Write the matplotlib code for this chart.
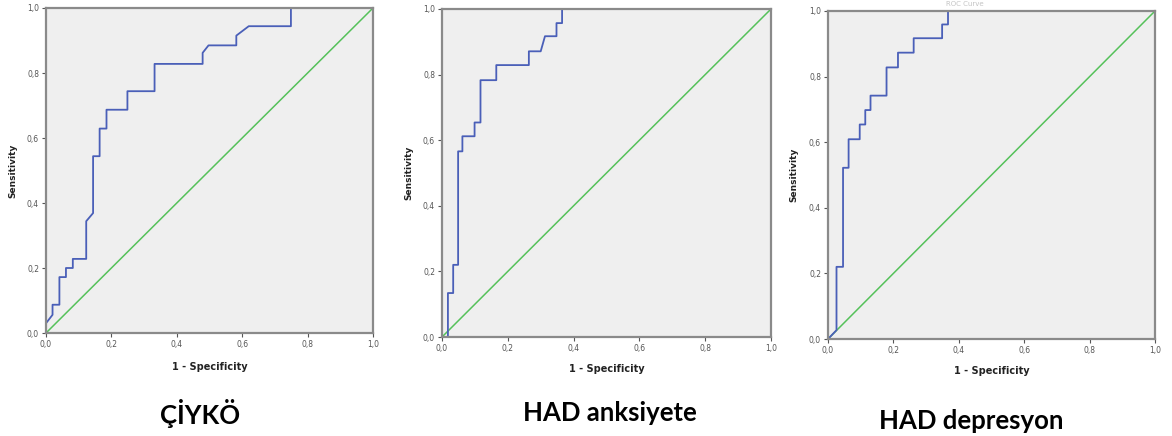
import matplotlib.pyplot as plt
from matplotlib.ticker import FuncFormatter

# ROC curve vertices (1 - specificity, sensitivity)
fpr_ciyko = [0.0, 0.0, 0.02, 0.02, 0.041, 0.041, 0.061, 0.061, 0.082, 0.082, 0.123, 0.123,
             0.144, 0.144, 0.164, 0.164, 0.185, 0.185, 0.249, 0.249, 0.332, 0.332, 0.479,
             0.479, 0.497, 0.582, 0.582, 0.62, 0.749, 0.749, 1.0]
tpr_ciyko = [0.0, 0.03, 0.056, 0.087, 0.087, 0.172, 0.172, 0.2, 0.2, 0.228, 0.228, 0.344,
             0.369, 0.544, 0.544, 0.629, 0.629, 0.687, 0.687, 0.744, 0.744, 0.828, 0.828,
             0.862, 0.885, 0.885, 0.915, 0.944, 0.944, 1.0, 1.0]

fpr_anks = [0.0, 0.018, 0.018, 0.034, 0.034, 0.049, 0.049, 0.062, 0.062, 0.099, 0.099, 0.117,
            0.117, 0.165, 0.165, 0.264, 0.264, 0.3, 0.313, 0.348, 0.348, 0.365, 0.365, 1.0]
tpr_anks = [0.0, 0.0, 0.134, 0.134, 0.22, 0.22, 0.566, 0.566, 0.612, 0.612, 0.654, 0.654,
            0.783, 0.783, 0.829, 0.829, 0.871, 0.871, 0.917, 0.917, 0.957, 0.957, 1.0, 1.0]

fpr_dep = [0.0, 0.026, 0.026, 0.046, 0.046, 0.063, 0.063, 0.097, 0.097, 0.114, 0.114, 0.13,
           0.13, 0.179, 0.179, 0.214, 0.214, 0.262, 0.262, 0.349, 0.349, 0.367, 0.367, 1.0]
tpr_dep = [0.0, 0.027, 0.22, 0.22, 0.522, 0.522, 0.609, 0.609, 0.654, 0.654, 0.698, 0.698,
           0.742, 0.742, 0.828, 0.828, 0.873, 0.873, 0.917, 0.917, 0.959, 0.959, 1.0, 1.0]

titles = ['ÇİYKÖ', 'HAD anksiyete', 'HAD depresyon']
ticks = [0.0, 0.2, 0.4, 0.6, 0.8, 1.0]

W, H = 1172, 436
fig = plt.figure(figsize=(W / 100, H / 100), dpi=100)

# panel boxes in pixels: left, top, right, bottom
boxes = [(46, 8, 373, 333), (442, 9, 771, 337), (828, 11, 1155, 339)]
curves = [(fpr_ciyko, tpr_ciyko), (fpr_anks, tpr_anks), (fpr_dep, tpr_dep)]
title_pos = [(200, 413), (610, 413), (971, 421)]
ylabel_x = [13, 409, 794]
xlabel_y = [367, 369, 371]

comma = FuncFormatter(lambda v, p: ('%.1f' % v).replace('.', ','))

for i in range(3):
    l, t, r, b = boxes[i]
    ax = fig.add_axes([l / W, 1 - b / H, (r - l) / W, (b - t) / H])
    ax.set_facecolor('#efefef')
    fpr, tpr = curves[i]
    ax.plot([0, 1], [0, 1], color='#55c15a', lw=1.1)
    ax.plot(fpr, tpr, color='#4a5fb8', lw=1.3)
    ax.set_xlim(0, 1)
    ax.set_ylim(0, 1)
    ax.set_xticks(ticks)
    ax.set_yticks(ticks)
    ax.xaxis.set_major_formatter(comma)
    ax.yaxis.set_major_formatter(comma)
    ax.tick_params(labelsize=5.5, colors='#555555', length=3, width=0.8, pad=2)
    for s in ax.spines.values():
        s.set_color('#8a8a8a')
        s.set_linewidth(1.6)

    fig.text(ylabel_x[i] / W, 1 - (t + b) / 2 / H, 'Sensitivity', rotation=90,
             ha='center', va='center', fontsize=6.5, fontweight='bold', color='#222222')
    fig.text((l + r) / 2 / W, 1 - xlabel_y[i] / H, '1 - Specificity',
             ha='center', va='center', fontsize=7, fontweight='bold', color='#222222')
    fig.text(title_pos[i][0] / W, 1 - title_pos[i][1] / H, titles[i],
             ha='center', va='center', fontsize=18.5, fontweight='bold',
             family=['Lato', 'DejaVu Sans'], color='black')

# faint heading above the third panel
fig.text(965 / W, 1 - 4 / H, 'ROC Curve', ha='center', va='center', fontsize=5, color='#c4c4c4')

fig.savefig('out.png', dpi=100)
